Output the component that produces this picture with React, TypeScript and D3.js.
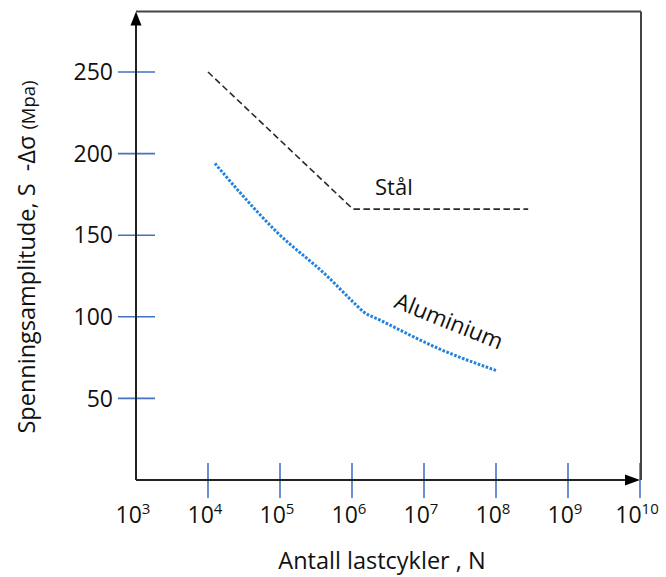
import React from "react";
import * as d3 from "d3";

// y-axis ticks (MPa) and x-axis decades (10^n cycles)
const yTicks = [50, 100, 150, 200, 250];
const xExponents = [3, 4, 5, 6, 7, 8, 9, 10];

// Stål (dashed)
const stalN = [1e4, 1.03e6, 2.8e8];
const stalS = [250, 166, 166];

// Aluminium (dotted)
const aluN = [1.25e4, 2.8e4, 9e4, 4.5e5, 1.04e6, 1.45e6, 2.45e6, 1.7e7, 1.02e8];
const aluS = [194, 176, 152, 125, 109, 103, 98, 80, 67];

const font = "'Open Sans', sans-serif";
const tickBlue = "#4472c4";

export default function App() {
  const x = d3.scaleLog().domain([1e3, 1e10]).range([136, 640]);
  const y = d3.scaleLinear().domain([0, 250]).range([480, 72]);

  const x0 = x(1e3);
  const x1 = x(1e10);
  const y0 = y(0);
  const yTop = y(287);

  const line = d3
    .line<[number, number]>()
    .x((d) => x(d[0]))
    .y((d) => y(d[1]));

  const stal = line(stalN.map((n, i) => [n, stalS[i]]));
  const alu = line.curve(d3.curveMonotoneX)(aluN.map((n, i) => [n, aluS[i]]));

  return (
    <svg
      width={666}
      height={577}
      style={{ position: "absolute", left: 0, top: 0, background: "#fff" }}
      fontFamily={font}
    >
      {/* ticks */}
      {yTicks.map((t) => (
        <g key={"y" + t}>
          <line x1={x0 - 18} x2={x0 + 19} y1={y(t)} y2={y(t)} stroke={tickBlue} strokeWidth={1.6} />
          <text x={x0 - 23} y={y(t)} dy="0.36em" textAnchor="end" fontSize={23} fill="#111">
            {t}
          </text>
        </g>
      ))}
      {xExponents.map((e) => (
        <g key={"x" + e}>
          {e > 3 && (
            <line x1={x(10 ** e)} x2={x(10 ** e)} y1={y0 - 17} y2={y0 + 18} stroke={tickBlue} strokeWidth={1.6} />
          )}
          <text x={x(10 ** e) - 3} y={y0 + 43} textAnchor="middle" fontSize={23} fill="#111">
            10
            <tspan fontSize={15} dy={-9}>
              {e}
            </tspan>
          </text>
        </g>
      ))}

      {/* frame */}
      <line x1={x0} x2={x1 + 1} y1={yTop} y2={yTop} stroke="#444" strokeWidth={2} />
      <line x1={x1 + 1} x2={x1 + 1} y1={yTop} y2={y0} stroke="#444" strokeWidth={2} />
      <line x1={x0} x2={x0} y1={y0} y2={yTop + 10} stroke="#222" strokeWidth={2} />
      <line x1={x0} x2={x1 - 12} y1={y0} y2={y0} stroke="#222" strokeWidth={2} />
      <path d={`M${x0},${yTop} L${x0 - 5.5},${yTop + 14} L${x0 + 5.5},${yTop + 14} Z`} fill="#000" />
      <path d={`M${x1},${y0} L${x1 - 15},${y0 - 5.5} L${x1 - 15},${y0 + 5.5} Z`} fill="#000" />

      {/* curves */}
      <path d={stal ?? ""} fill="none" stroke="#2a2a2a" strokeWidth={1.6} strokeDasharray="6.5,3.5" />
      <path d={alu ?? ""} fill="none" stroke="#1f82dc" strokeWidth={3} strokeDasharray="2.6,1.6" />

      <text x={375} y={195} fontSize={22} fill="#111">
        Stål
      </text>
      <text transform="translate(393,307) rotate(22)" fontSize={22.5} fill="#111">
        Aluminium
      </text>

      {/* axis titles */}
      <text x={382} y={569} textAnchor="middle" fontSize={23.5} fill="#111" style={{ whiteSpace: "pre" }}>
        Antall lastcykler , N
      </text>
      <text
        transform="translate(35,257) rotate(-90)"
        textAnchor="middle"
        fontSize={23.5}
        fill="#111"
        style={{ whiteSpace: "pre" }}
      >
        {"Spenningsamplitude, S  -Δσ "}
        <tspan fontSize={18.5}>(Mpa)</tspan>
      </text>
    </svg>
  );
}
